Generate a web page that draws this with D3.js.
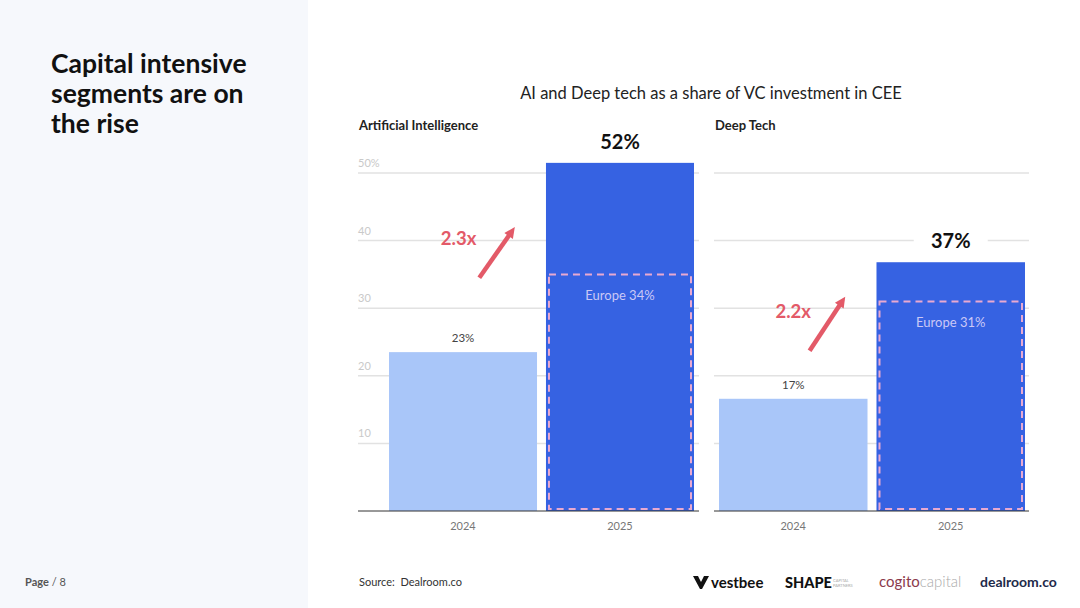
<!DOCTYPE html>
<html>
<head>
<meta charset="utf-8">
<script src="https://cdn.jsdelivr.net/npm/d3@7"></script>
<style>
  html, body { margin: 0; padding: 0; background: #fff; }
  svg { display: block; font-family: Lato, "Noto Sans", sans-serif; }
</style>
</head>
<body>
<div id="chartContainer"></div>
<script>
// data
const years = ["2024", "2025"];
const panelTitles = ["Artificial Intelligence", "Deep Tech"];
const aiValues = [23.5, 51.5];
const aiLabels = ["23%", "52%"];
const aiEurope = 35;
const aiEuropeLabel = "Europe 34%";
const aiGrowth = "2.3x";
const deepValues = [16.6, 36.8];
const deepLabels = ["17%", "37%"];
const deepEurope = 31;
const deepEuropeLabel = "Europe 31%";
const deepGrowth = "2.2x";
const yTicks = [10, 20, 30, 40, 50];

const width = 1080;
const height = 608;
const red = "#e35a68";

const svg = d3.create("svg")
  .attr("width", width)
  .attr("height", height)
  .attr("viewBox", [0, 0, width, height]);
document.getElementById("chartContainer").appendChild(svg.node());

// left side panel
svg.append("rect")
  .attr("width", 308).attr("height", height)
  .attr("fill", "#f6f8fc");

svg.append("text")
  .attr("x", 51).attr("y", 73)
  .attr("font-size", 26.5).attr("font-weight", 700).attr("fill", "#111")
  .selectAll("tspan")
  .data(["Capital intensive", "segments are on", "the rise"])
  .join("tspan")
  .attr("x", 51)
  .attr("dy", (d, i) => i === 0 ? 0 : 30)
  .text(d => d);

const page = svg.append("text")
  .attr("x", 25).attr("y", 586)
  .attr("font-size", 11).attr("fill", "#555");
page.append("tspan").attr("font-weight", 700).text("Page");
page.append("tspan").text(" / 8");

svg.append("text")
  .attr("x", 711).attr("y", 99)
  .attr("text-anchor", "middle")
  .attr("font-size", 16.5).attr("fill", "#222")
  .text("AI and Deep tech as a share of VC investment in CEE");

svg.append("text")
  .attr("x", 359).attr("y", 586)
  .attr("font-size", 11).attr("fill", "#333")
  .attr("xml:space", "preserve")
  .text("Source:  Dealroom.co");

const y = d3.scaleLinear().domain([0, 50]).range([511, 173]);

function drawPanel(opts) {
  const g = svg.append("g");
  const x = d3.scaleBand()
    .domain(years)
    .range(opts.barRange)
    .paddingInner(0.057)
    .paddingOuter(0);

  g.append("text")
    .attr("x", opts.gridRange[0] + 1).attr("y", 130)
    .attr("font-size", 13).attr("font-weight", 700).attr("fill", "#222")
    .text(opts.title);

  // gridlines
  g.append("g")
    .selectAll("line")
    .data(yTicks)
    .join("line")
    .attr("x1", opts.gridRange[0]).attr("x2", opts.gridRange[1])
    .attr("y1", d => y(d)).attr("y2", d => y(d))
    .attr("stroke", "#e2e2e2").attr("stroke-width", 1.5);

  if (opts.showTicks) {
    g.append("g")
      .selectAll("text")
      .data(yTicks)
      .join("text")
      .attr("x", opts.gridRange[0])
      .attr("y", d => y(d) - 6)
      .attr("font-size", 11).attr("fill", "#c9c9c9")
      .text(d => d === 50 ? d + "%" : d);
  }

  // bars
  g.append("g")
    .selectAll("rect")
    .data(opts.values)
    .join("rect")
    .attr("x", (d, i) => x(years[i]))
    .attr("y", d => y(d))
    .attr("width", x.bandwidth())
    .attr("height", d => y(0) - y(d))
    .attr("fill", (d, i) => i === 0 ? "#a9c6f9" : "#3662e2");

  // baseline
  g.append("line")
    .attr("x1", opts.gridRange[0]).attr("x2", opts.gridRange[1])
    .attr("y1", y(0)).attr("y2", y(0))
    .attr("stroke", "#333").attr("stroke-width", 1);

  // Europe benchmark box
  const ex = x(years[1]) + 3;
  g.append("rect")
    .attr("x", ex)
    .attr("y", y(opts.europe))
    .attr("width", x.bandwidth() - 6)
    .attr("height", y(0) - 2 - y(opts.europe))
    .attr("fill", "none")
    .attr("stroke", "#e9a9d0").attr("stroke-width", 2)
    .attr("stroke-dasharray", "7,5");
  g.append("text")
    .attr("x", x(years[1]) + x.bandwidth() / 2)
    .attr("y", y(opts.europe) + 26)
    .attr("text-anchor", "middle")
    .attr("font-size", 13).attr("fill", "#cbc8f6")
    .text(opts.europeLabel);

  // value labels
  g.append("text")
    .attr("x", x(years[0]) + x.bandwidth() / 2)
    .attr("y", y(opts.values[0]) - 10)
    .attr("text-anchor", "middle")
    .attr("font-size", 11.5).attr("fill", "#444")
    .text(opts.labels[0]);
  const bx = x(years[1]) + x.bandwidth() / 2;
  const by = y(opts.values[1]) - 14;
  if (opts.maskLabel) {
    g.append("rect")
      .attr("x", bx - 37).attr("y", by - 18)
      .attr("width", 74).attr("height", 22)
      .attr("fill", "#fff");
  }
  g.append("text")
    .attr("x", bx).attr("y", by)
    .attr("text-anchor", "middle")
    .attr("font-size", 20).attr("font-weight", 700).attr("fill", "#111")
    .text(opts.labels[1]);

  // growth arrow
  const ax0 = x(years[0]) + x.bandwidth() * opts.arrow[0];
  const ax1 = x(years[0]) + x.bandwidth() * opts.arrow[2];
  const ay0 = y(opts.arrow[1]);
  const ay1 = y(opts.arrow[3]);
  const ang = Math.atan2(ay1 - ay0, ax1 - ax0);
  const head = 12;
  g.append("line")
    .attr("x1", ax0).attr("y1", ay0)
    .attr("x2", ax1 - Math.cos(ang) * head * 0.8)
    .attr("y2", ay1 - Math.sin(ang) * head * 0.8)
    .attr("stroke", red).attr("stroke-width", 4.5);
  const pts = [
    [ax1, ay1],
    [ax1 - Math.cos(ang - 0.45) * head, ay1 - Math.sin(ang - 0.45) * head],
    [ax1 - Math.cos(ang + 0.45) * head, ay1 - Math.sin(ang + 0.45) * head]
  ];
  g.append("path")
    .attr("d", d3.line()(pts) + "Z")
    .attr("fill", red);
  g.append("text")
    .attr("x", x(years[0]) + x.bandwidth() * opts.growthPos[0])
    .attr("y", y(opts.growthPos[1]))
    .attr("text-anchor", "middle")
    .attr("font-size", 18.5).attr("font-weight", 700).attr("fill", red)
    .text(opts.growth);

  // year labels
  g.append("g")
    .selectAll("text")
    .data(years)
    .join("text")
    .attr("x", d => x(d) + x.bandwidth() / 2)
    .attr("y", 530)
    .attr("text-anchor", "middle")
    .attr("font-size", 11).attr("fill", "#777")
    .text(d => d);
}

drawPanel({
  title: panelTitles[0], values: aiValues, labels: aiLabels,
  europe: aiEurope, europeLabel: aiEuropeLabel, growth: aiGrowth,
  gridRange: [358, 699], barRange: [389, 694], showTicks: true, maskLabel: false,
  arrow: [0.61, 34.5, 0.85, 42], growthPos: [0.47, 39.3]
});
drawPanel({
  title: panelTitles[1], values: deepValues, labels: deepLabels,
  europe: deepEurope, europeLabel: deepEuropeLabel, growth: deepGrowth,
  gridRange: [714, 1029], barRange: [719, 1025], showTicks: false, maskLabel: true,
  arrow: [0.61, 23.7, 0.85, 31.7], growthPos: [0.5, 28.6]
});

// partner logos
const logos = svg.append("g").attr("font-weight", 700);
const vb = logos.append("g").attr("transform", "translate(693,576)");
vb.append("path")
  .attr("d", "M0,0 L5,0 L8,6 L11,0 L16,0 L9,13 L7,13 Z")
  .attr("fill", "#111");
vb.append("text").attr("x", 18).attr("y", 12)
  .attr("font-size", 15).attr("fill", "#111").text("vestbee");
logos.append("text").attr("x", 785).attr("y", 588)
  .attr("font-size", 14.5).attr("font-weight", 900).attr("fill", "#111").text("SHAPE");
logos.append("text").attr("x", 833).attr("y", 582)
  .attr("font-size", 4).attr("font-weight", 400).attr("fill", "#aaa").text("CAPITAL");
logos.append("text").attr("x", 833).attr("y", 587)
  .attr("font-size", 4).attr("font-weight", 400).attr("fill", "#aaa").text("PARTNERS");
const cg = logos.append("text").attr("x", 879).attr("y", 587)
  .attr("font-size", 15).attr("font-weight", 400);
cg.append("tspan").attr("fill", "#8c3a4c").text("cogito");
cg.append("tspan").attr("fill", "#aaa").attr("font-weight", 300).text("capital");
logos.append("text").attr("x", 980).attr("y", 587)
  .attr("font-size", 14).attr("fill", "#1e2a4a").text("dealroom.co");
</script>
</body>
</html>
